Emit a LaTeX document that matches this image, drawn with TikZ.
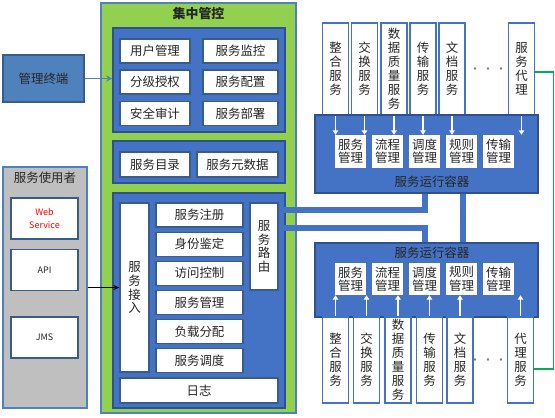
\documentclass[tikz,border=0pt]{standalone}
\usepackage{fontspec}
\setmainfont{Noto Sans CJK SC}
\usepackage{xcolor}
\usepackage{tikz}
\usetikzlibrary{arrows.meta,positioning,calc}

\definecolor{boxblue}{HTML}{4472C4}
\definecolor{edgeblue}{HTML}{2F528F}
\definecolor{termblue}{HTML}{4F81BD}
\definecolor{termedge}{HTML}{385D8A}
\definecolor{ctrlgreen}{HTML}{92D050}
\definecolor{usergray}{HTML}{BFBFBF}
\definecolor{linkgreen}{HTML}{00B050}
\definecolor{txt}{HTML}{262626}

\newcommand{\dotrow}{\makebox[3bp]{·}\hspace{10bp}\makebox[3bp]{·}\hspace{10bp}\makebox[3bp]{·}}

\begin{document}
\begin{tikzpicture}[x=1bp, y=-1bp,
  base/.style={inner sep=0pt, text=txt, font=\fontsize{12.5}{14}\selectfont, align=center},
  panel/.style={base, draw=edgeblue, fill=boxblue, line width=1.5bp},
  wbox/.style={base, draw=termedge, fill=white, line width=1.2bp},
  ubox/.style={base, draw=termedge, fill=white, line width=1.8bp, minimum width=67bp, minimum height=41bp, font=\fontsize{9}{13}\selectfont},
  svc/.style={base, draw=boxblue, fill=white, line width=1.8bp, minimum width=26bp},
  mgr/.style={base, fill=white, minimum width=31bp, minimum height=33bp, font=\fontsize{12.5}{13.5}\selectfont},
  dots/.style={base, text=gray, font=\fontsize{12}{12}\selectfont},
  feed/.style={white, line width=1.6bp, -{Triangle[width=5.5bp,length=4.5bp]}},
  pipe/.style={boxblue, line width=5.5bp}]
  \useasboundingbox (0,0) rectangle (555,417);

  % Management terminal
  \node[base, draw=termedge, fill=termblue, line width=2bp, minimum width=81bp, minimum height=47bp] (term) at (43.5,78.5) {管理终端};

  % Service consumers
  \node[base, draw=termblue, fill=usergray, line width=2bp, minimum width=84bp, minimum height=241bp] (users) at (45,287.5) {};
  \node[base] (usersTitle) at (45,178) {服务使用者};
  \node[ubox, text=red] (web) at (44.5,218.5) {Web\\Service};
  \node[ubox] (api) at (44.5,270) {API};
  \node[ubox] (jms) at (44.5,337.5) {JMS};

  % Central control
  \node[base, draw=termblue, fill=ctrlgreen, line width=2bp, minimum width=195bp, minimum height=410bp] (ctrl) at (198.5,208) {};
  \node[base, font=\fontsize{13}{14}\selectfont\bfseries] (ctrlTitle) at (198.5,14) {集中管控};
  \node[panel, minimum width=172bp, minimum height=104bp] (grpA) at (199,80) {};
  \node[panel, minimum width=172bp, minimum height=42bp] (grpB) at (199,162) {};
  \node[panel, minimum width=172bp, minimum height=215bp] (grpC) at (199,300.5) {};

  % Group A: user and service administration
  \node[wbox, minimum width=70bp, minimum height=24bp] (user) at (155,51) {用户管理};
  \node[wbox, minimum width=75bp, minimum height=24bp] (monitor) at (240.5,51) {服务监控};
  \node[wbox, minimum width=70bp, minimum height=24bp] (grant) at (155,82) {分级授权};
  \node[wbox, minimum width=75bp, minimum height=24bp] (config) at (240.5,82) {服务配置};
  \node[wbox, minimum width=70bp, minimum height=24bp] (audit) at (155,113.5) {安全审计};
  \node[wbox, minimum width=75bp, minimum height=24bp] (deploy) at (240.5,113.5) {服务部署};

  % Group B: catalogue
  \node[wbox, minimum width=70bp, minimum height=25bp] (catalog) at (155,164.5) {服务目录};
  \node[wbox, minimum width=81bp, minimum height=25bp] (meta) at (237.5,164.5) {服务元数据};

  % Group C: access
  \node[wbox, minimum width=29bp, minimum height=169bp] (access) at (134.5,287.5) {服\\务\\接\\入};
  \foreach \name/\txt [count=\i from 0] in {reg/服务注册, ident/身份鉴定, acl/访问控制, smgr/服务管理, lb/负载分配, sched/服务调度} {
    \node[wbox, minimum width=87bp, minimum height=24bp] (\name) at (199.5,215+29.1*\i) {\txt};
  }
  \node[wbox, minimum width=28bp, minimum height=87bp] (route) at (264,246.5) {服\\务\\路\\由};
  \node[wbox, minimum width=158bp, minimum height=25bp] (log) at (199,390.5) {日志};

  % Upper runtime container
  \foreach \x/\txt [count=\i] in {335.5/整\\合\\服\\务, 364.5/交\\换\\服\\务, 394/数\\据\\质\\量\\服\\务, 423/传\\输\\服\\务, 452/文\\档\\服\\务, 521.5/服\\务\\代\\理} {
    \node[svc, minimum height=92bp] (ts\i) at (\x,69) {\txt};
  }
  \node[dots] (tdots) at (488,71) {\dotrow};
  \node[panel, minimum width=223bp, minimum height=78bp] (rtTop) at (426.5,154) {};
  \node[base] (rtTopLabel) at (432,182) {服务运行容器};
  \foreach \txt [count=\i] in {服务\\管理, 流程\\管理, 调度\\管理, 规则\\管理, 传输\\管理} {
    \node[mgr] (tm\i) at (313.5+37*\i,151.5) {\txt};
  }
  \foreach \i in {1,...,6}
    \draw[feed] (ts\i.south) -- (ts\i.south |- tm1.north);

  % Lower runtime container
  \node[panel, minimum width=223bp, minimum height=74bp] (rtBot) at (426.5,280) {};
  \node[base] (rtBotLabel) at (432,253) {服务运行容器};
  \foreach \txt [count=\i] in {服务\\管理, 流程\\管理, 调度\\管理, 规则\\管理, 传输\\管理} {
    \node[mgr, minimum height=32bp] (bm\i) at (313.5+37*\i,279) {\txt};
  }
  \foreach \x/\txt [count=\i] in {335.5/整\\合\\服\\务, 366.5/交\\换\\服\\务, 398/数\\据\\质\\量\\服\\务, 429.5/传\\输\\服\\务, 460/文\\档\\服\\务, 520.5/代\\理\\服\\务} {
    \node[svc, minimum height=86bp] (bs\i) at (\x,360) {\txt};
  }
  \node[dots] (bdots) at (488,362) {\dotrow};
  \foreach \i in {1,...,6}
    \draw[feed] (bs\i.north) -- (bs\i.north |- bm1.south);

  % Pipes between routing and containers
  \draw[pipe] (route.east |- 0,210) -| (rtTop.south -| 425,0);
  \draw[pipe] (route.east |- 0,228) -| (rtBot.north -| 425,0);
  \draw[pipe] (rtTop.south -| 463,0) -- (rtBot.north -| 463,0);

  % Arrows and agent link
  \draw[termblue, line width=1.8bp, -{Stealth[length=6bp,width=6bp]}] (term.east) -- (term.east -| grpA.west);
  \draw[black, line width=1.2bp, -{Stealth[length=6bp,width=5bp]}] (users.east |- access.west) -- (access.west);
  \draw[linkgreen, line width=1.5bp] ($(ts6.east)+(0,3)$) -- ++(18,0) |- ($(bs6.east)+(0,9)$);
\end{tikzpicture}
\end{document}
